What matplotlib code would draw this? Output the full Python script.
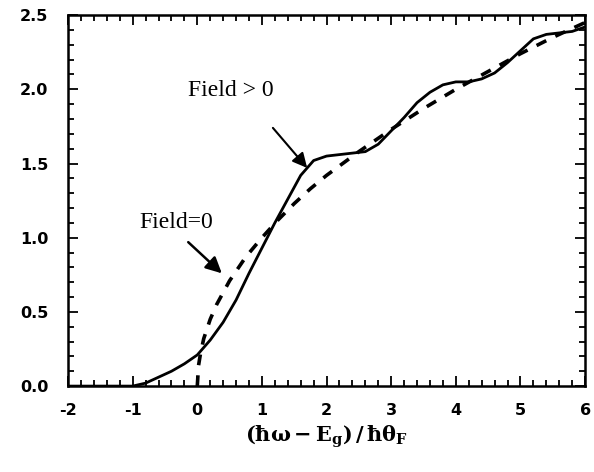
import matplotlib
matplotlib.use("Agg")
import matplotlib.pyplot as plt
from matplotlib.ticker import MultipleLocator

plt.rcParams['axes.unicode_minus'] = False
plt.rcParams['mathtext.fontset'] = 'dejavuserif'

# Field > 0 (solid)
x_field = [-2.0, -1.0, -0.8, -0.6, -0.4, -0.2, 0.0, 0.2, 0.4, 0.6, 0.8, 1.0, 1.2,
           1.4, 1.6, 1.8, 2.0, 2.2, 2.4, 2.6, 2.8, 3.0, 3.2, 3.4, 3.6, 3.8, 4.0,
           4.2, 4.4, 4.6, 4.8, 5.0, 5.2, 5.4, 5.6, 5.8, 6.0]
y_field = [0.0, 0.0, 0.02, 0.06, 0.10, 0.15, 0.21, 0.31, 0.43, 0.58, 0.76, 0.93, 1.10,
           1.26, 1.42, 1.52, 1.55, 1.56, 1.57, 1.58, 1.63, 1.72, 1.81, 1.91, 1.98, 2.03, 2.05,
           2.05, 2.07, 2.11, 2.18, 2.26, 2.34, 2.37, 2.38, 2.39, 2.42]

# Field = 0 (dashed)
x_zero = [0.0, 0.02, 0.05, 0.1, 0.2, 0.3, 0.4, 0.5, 0.75, 1.0, 1.25, 1.5, 1.75, 2.0,
          2.5, 3.0, 3.5, 4.0, 4.5, 5.0, 5.5, 6.0]
y_zero = [0.0, 0.14, 0.22, 0.32, 0.45, 0.55, 0.63, 0.71, 0.87, 1.0, 1.12, 1.23, 1.33, 1.42,
          1.58, 1.73, 1.87, 2.0, 2.12, 2.24, 2.35, 2.45]

x_ticks = [-2, -1, 0, 1, 2, 3, 4, 5, 6]
y_ticks = [0.0, 0.5, 1.0, 1.5, 2.0, 2.5]

fig = plt.figure(figsize=(5.94, 4.72), dpi=100)
ax = fig.add_axes([0.1145, 0.182, 0.8705, 0.786])

ax.plot(x_field, y_field, color='black', lw=2.0, solid_capstyle='round')
ax.plot(x_zero, y_zero, color='black', lw=2.6, dashes=(3.0, 2.8))

ax.set_xlim(-2, 6)
ax.set_ylim(0, 2.5)
ax.set_xticks(x_ticks)
ax.set_yticks(y_ticks)
ax.set_xticklabels([str(v) for v in x_ticks])
ax.set_yticklabels([f"{v:.1f}" for v in y_ticks])
ax.xaxis.set_minor_locator(MultipleLocator(0.2))
ax.yaxis.set_minor_locator(MultipleLocator(0.1))
ax.tick_params(which='both', direction='in', top=True, right=True, width=1.3)
ax.tick_params(which='major', length=7)
ax.tick_params(which='minor', length=4)
ax.tick_params(axis='x', pad=12)
ax.tick_params(axis='y', pad=14)
for lab in ax.get_xticklabels() + ax.get_yticklabels():
    lab.set_fontweight('bold')
    lab.set_fontsize(11.5)
    lab.set_family('DejaVu Sans')
for s in ax.spines.values():
    s.set_linewidth(1.8)

ax.set_xlabel(r'$\mathbf{(\hbar\omega-E_g)\,/\,\hbar\theta_F}$', fontsize=15, labelpad=4)

ax.text(-0.14, 1.99, 'Field > 0', fontsize=17, family='Liberation Serif',
        va='center', ha='left')
ax.annotate('', xy=(1.70, 1.47), xytext=(1.17, 1.74),
            arrowprops=dict(arrowstyle='-|>', color='black', lw=1.5,
                            mutation_scale=22, shrinkA=0, shrinkB=0))
ax.text(-0.90, 1.105, 'Field=0', fontsize=17, family='Liberation Serif',
        va='center', ha='left')
ax.annotate('', xy=(0.38, 0.76), xytext=(-0.14, 0.97),
            arrowprops=dict(arrowstyle='-|>', color='black', lw=1.8,
                            mutation_scale=24, shrinkA=0, shrinkB=0))

fig.savefig('out.png', dpi=100)
